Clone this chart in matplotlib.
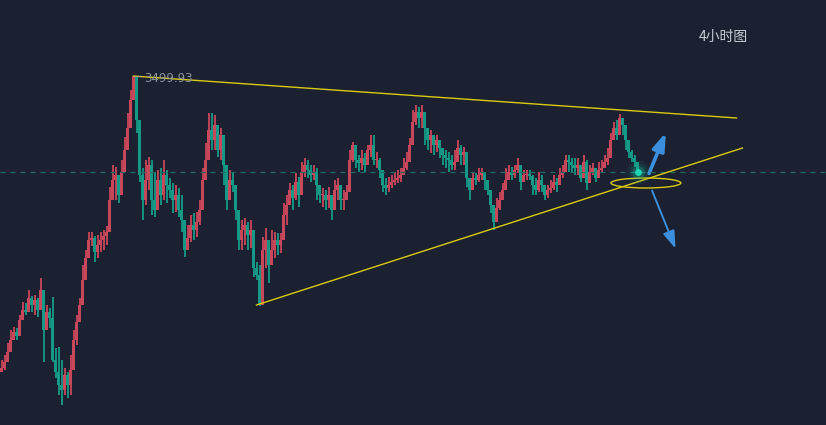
import matplotlib
matplotlib.use("Agg")
import matplotlib.pyplot as plt
from matplotlib.patches import Ellipse, FancyArrowPatch
import numpy as np

plt.rcParams['font.family'] = ['Noto Sans CJK SC', 'DejaVu Sans']

# ---- data (4h candles) ----
first_open = 3204
closes = [
    3208, 3214, 3224, 3236, 3244, 3240, 3256, 3266, 3264, 3278,
    3271, 3276, 3266, 3286, 3246, 3264, 3258, 3216, 3204, 3191,
    3186, 3201, 3191, 3206, 3236, 3254, 3271, 3296, 3318, 3336,
    3338, 3324, 3331, 3336, 3340, 3344, 3376, 3396, 3401, 3381,
    3404, 3426, 3448, 3476, 3499.93, 3456, 3401, 3376, 3396, 3411,
    3376, 3366, 3396, 3381, 3401, 3391, 3386, 3376, 3381, 3366,
    3356, 3326, 3338, 3351, 3346, 3354, 3366, 3396, 3416, 3446,
    3436, 3451, 3426, 3441, 3411, 3376, 3396, 3391, 3366, 3336,
    3346, 3351, 3341, 3346, 3308, 3301, 3271, 3326, 3336, 3311,
    3326, 3336, 3331, 3336, 3361, 3371, 3386, 3378, 3394, 3381,
    3404, 3411, 3406, 3401, 3404, 3391, 3381, 3381, 3376, 3381,
    3366, 3386, 3391, 3376, 3376, 3384, 3416, 3431, 3416, 3413,
    3418, 3411, 3426, 3431, 3416, 3416, 3406, 3391, 3388, 3391,
    3394, 3396, 3398, 3401, 3408, 3414, 3431, 3454, 3464, 3458,
    3464, 3448, 3436, 3441, 3431, 3436, 3428, 3421, 3418, 3416,
    3411, 3414, 3428, 3421, 3424, 3398, 3386, 3398, 3396, 3401,
    3404, 3396, 3386, 3371, 3354, 3368, 3376, 3386, 3396, 3404,
    3401, 3406, 3411, 3394, 3401, 3402, 3400, 3391, 3386, 3396,
    3391, 3381, 3386, 3388, 3394, 3391, 3401, 3404, 3416, 3414,
    3411, 3408, 3411, 3398, 3414, 3393, 3404, 3408, 3398, 3406,
    3408, 3414, 3418, 3436, 3448, 3441, 3458, 3451, 3436, 3424,
    3418, 3414, 3404,
]
highs = [
    3216, 3221, 3233, 3246, 3249, 3248, 3261, 3274, 3273, 3286,
    3280, 3281, 3278, 3298, 3276, 3271, 3268, 3279, 3228, 3229,
    3216, 3208, 3204, 3221, 3246, 3261, 3278, 3311, 3326, 3344,
    3344, 3340, 3341, 3344, 3346, 3350, 3389, 3411, 3409, 3401,
    3416, 3439, 3463, 3486, 3499.93, 3492, 3436, 3408, 3416, 3419,
    3416, 3404, 3406, 3408, 3416, 3406, 3398, 3393, 3391, 3388,
    3381, 3351, 3351, 3361, 3363, 3364, 3376, 3408, 3433, 3463,
    3463, 3461, 3449, 3448, 3431, 3401, 3406, 3404, 3381, 3361,
    3356, 3358, 3354, 3356, 3331, 3314, 3311, 3339, 3348, 3336,
    3346, 3344, 3343, 3343, 3373, 3381, 3393, 3391, 3403, 3399,
    3414, 3418, 3416, 3411, 3411, 3408, 3391, 3388, 3386, 3389,
    3378, 3396, 3398, 3386, 3386, 3391, 3426, 3434, 3424, 3421,
    3426, 3423, 3431, 3441, 3441, 3424, 3418, 3401, 3398, 3399,
    3401, 3404, 3406, 3408, 3418, 3424, 3438, 3466, 3471, 3469,
    3471, 3458, 3446, 3446, 3441, 3441, 3436, 3428, 3426, 3424,
    3421, 3426, 3436, 3431, 3429, 3411, 3398, 3404, 3403, 3408,
    3408, 3401, 3396, 3378, 3368, 3378, 3384, 3393, 3408, 3411,
    3409, 3411, 3418, 3404, 3406, 3406, 3406, 3401, 3398, 3404,
    3401, 3390, 3391, 3396, 3401, 3398, 3408, 3411, 3421, 3421,
    3418, 3418, 3418, 3408, 3421, 3416, 3411, 3413, 3406, 3414,
    3416, 3421, 3428, 3443, 3454, 3456, 3462, 3458, 3451, 3436,
    3426, 3421, 3414,
]
lows = [
    3204, 3206, 3216, 3231, 3238, 3236, 3244, 3260, 3261, 3271,
    3264, 3261, 3259, 3276, 3214, 3251, 3248, 3214, 3198, 3181,
    3171, 3181, 3178, 3181, 3216, 3231, 3258, 3284, 3308, 3326,
    3330, 3314, 3318, 3324, 3326, 3331, 3359, 3384, 3376, 3373,
    3394, 3413, 3441, 3461, 3476, 3443, 3394, 3356, 3371, 3386,
    3361, 3359, 3368, 3371, 3376, 3373, 3378, 3363, 3364, 3359,
    3344, 3319, 3328, 3334, 3336, 3339, 3351, 3376, 3398, 3426,
    3426, 3426, 3419, 3416, 3391, 3366, 3381, 3384, 3356, 3326,
    3326, 3331, 3326, 3328, 3299, 3296, 3270, 3286, 3308, 3293,
    3314, 3318, 3321, 3323, 3339, 3351, 3371, 3366, 3376, 3369,
    3391, 3399, 3398, 3394, 3396, 3376, 3373, 3369, 3366, 3368,
    3356, 3373, 3376, 3366, 3366, 3376, 3401, 3414, 3408, 3404,
    3406, 3404, 3416, 3419, 3411, 3408, 3398, 3384, 3381, 3384,
    3388, 3391, 3393, 3394, 3404, 3406, 3421, 3446, 3451, 3448,
    3448, 3431, 3426, 3423, 3421, 3424, 3418, 3411, 3408, 3404,
    3406, 3406, 3416, 3411, 3411, 3389, 3376, 3391, 3391, 3394,
    3396, 3386, 3381, 3363, 3346, 3361, 3366, 3378, 3388, 3396,
    3396, 3398, 3403, 3386, 3394, 3396, 3396, 3381, 3381, 3384,
    3384, 3376, 3378, 3383, 3386, 3384, 3394, 3398, 3406, 3404,
    3404, 3401, 3401, 3394, 3404, 3386, 3398, 3401, 3394, 3401,
    3404, 3408, 3411, 3426, 3436, 3436, 3448, 3441, 3426, 3418,
    3414, 3409, 3402,
]
peak_label = "3499.93"
title_text = "4小时图"

# trend lines: (candle index, price)
upper_line_x = [44, 245]
upper_line_y = [3499.93, 3458]
lower_line_x = [85, 247]
lower_line_y = [3271, 3428]
# ellipse around breakout zone (center index, center price, width idx, height price)
ellipse_spec = [214.8, 3393, 23.3, 10]
# arrows (start idx, start price, end idx, end price)
arrow_up = [215.5, 3400, 221.8, 3446]
arrow_down = [216.5, 3388, 225.0, 3325]

BG = '#1b2130'
RED = '#c9475b'
GREEN = '#149a86'

W, H = 826, 425
fig = plt.figure(figsize=(W / 100, H / 100), dpi=100, facecolor=BG)
ax = fig.add_axes([0, 0, 1, 1], facecolor=BG)
ax.set_axis_off()

opens = [first_open] + closes[:-1]
n = len(closes)
xs = np.arange(n)
cols = [RED if closes[i] >= opens[i] else GREEN for i in range(n)]
ax.vlines(xs, lows, highs, colors=cols, lw=1.3)
bot = [min(o, c) for o, c in zip(opens, closes)]
hgt = [max(abs(c - o), 1.5) for o, c in zip(opens, closes)]
ax.bar(xs, hgt, bottom=bot, width=0.85, color=cols, linewidth=0)

last = closes[-1]
ax.axhline(last, color='#1f6b63', lw=0.9, ls=(0, (4, 4)))

ax.plot(upper_line_x, upper_line_y, color='#d9cb12', lw=1.0)
ax.plot(lower_line_x, lower_line_y, color='#d9cb12', lw=1.0)

# small marker near peak
ax.plot([44, 46.5], [3500.5, 3500.5], color='#9aa0aa', lw=0.8, ls=(0, (1, 1)))
ax.text(47.5, 3497.5, peak_label, color='#8d929c', fontsize=8.5, va='center', ha='left',
        family=['DejaVu Sans'])

e = Ellipse((ellipse_spec[0], ellipse_spec[1]), ellipse_spec[2], ellipse_spec[3],
            fill=False, edgecolor='#d9cb12', lw=1.0)
ax.add_patch(e)

for a, lw in ((arrow_up, 2.6), (arrow_down, 1.4)):
    ar = FancyArrowPatch((a[0], a[1]), (a[2], a[3]),
                         arrowstyle='-|>,head_length=7,head_width=2.4',
                         color='#3b8fdc', lw=lw, mutation_scale=1.5)
    ax.add_patch(ar)

# glowing dot at last close
for s, al in [(300, 0.06), (170, 0.12), (80, 0.25)]:
    ax.scatter([n - 1], [last], s=s, color='#19c2a5', alpha=al, linewidths=0, zorder=5)
ax.scatter([n - 1], [last], s=24, color='#1ed6b4', linewidths=0, zorder=6)

ax.text(0.846, 0.913, title_text, transform=ax.transAxes, color='#c9cdd4', fontsize=10,
        ha='left', va='center')

ax.set_xlim(-0.5, (W - 1.5) / 3)
ax.set_ylim(3576 - H, 3576)

fig.savefig('out.png', dpi=100, facecolor=BG)
